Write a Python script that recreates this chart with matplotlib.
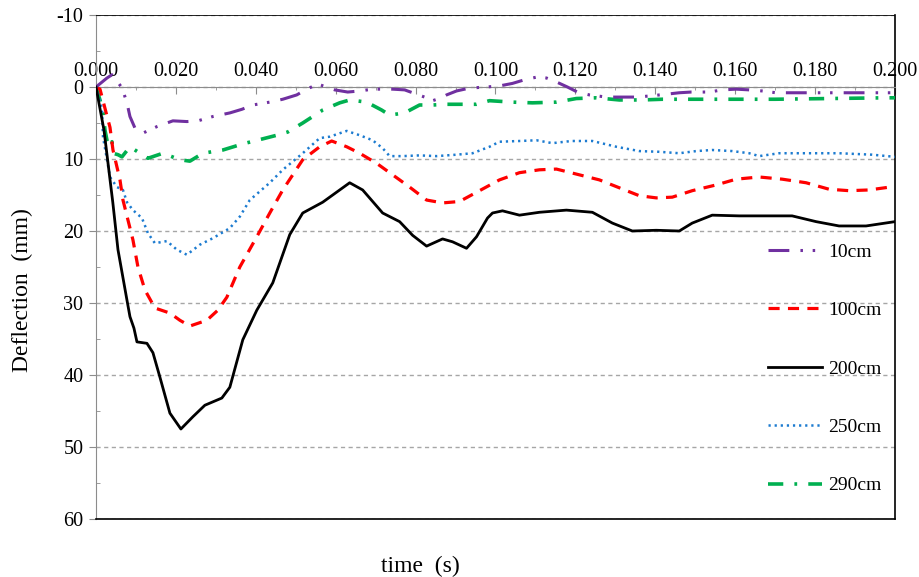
import matplotlib
matplotlib.use("Agg")
import matplotlib.pyplot as plt
from matplotlib.ticker import MultipleLocator, FormatStrFormatter

plt.rcParams['font.family'] = ['Liberation Serif', 'DejaVu Serif']
plt.rcParams['lines.scale_dashes'] = False
plt.rcParams['axes.unicode_minus'] = False

# deflection (mm) vs time (s)
t_10 = [0, 0.00275, 0.004, 0.0065, 0.00775, 0.0085, 0.00975, 0.01175, 0.01525, 0.01925,
        0.02275, 0.0255, 0.02925, 0.0335, 0.0365, 0.03925, 0.0435, 0.04675, 0.05025, 0.05275,
        0.0555, 0.05775, 0.05975, 0.063, 0.066, 0.06925, 0.07425, 0.07725, 0.08025, 0.08275,
        0.08425, 0.0865, 0.08775, 0.09025, 0.0935, 0.09775, 0.101, 0.10425, 0.10725, 0.1105,
        0.11275, 0.11525, 0.118, 0.1205, 0.1235, 0.12775, 0.13175, 0.13525, 0.1385, 0.14275,
        0.146, 0.149, 0.1535, 0.15675, 0.16025, 0.1635, 0.16675, 0.17025, 0.17425, 0.18025,
        0.1843, 0.2]
d_10 = [0, -1.25, -1.7, 0.1, 2.2, 4.1, 5.7, 6.4, 5.5, 4.7,
        4.8, 4.7, 4.1, 3.6, 3.1, 2.5, 2.1, 1.7, 1.1, 0.3,
        -0.4, 0, 0.4, 0.7, 0.55, 0.3, 0.3, 0.4, 1.0, 1.5,
        1.9, 1.5, 1.1, 0.55, 0.15, 0, -0.15, -0.5, -1.0, -1.4,
        -1.25, -0.7, 0, 0.7, 1.1, 1.4, 1.4, 1.4, 1.25, 1.0,
        0.8, 0.7, 0.7, 0.4, 0.3, 0.4, 0.55, 0.8, 0.8, 0.8,
        0.8, 0.8]

t_100 = [0, 0.001, 0.0025, 0.0035, 0.00425, 0.006, 0.00675, 0.00925, 0.0105, 0.01225,
         0.01475, 0.0185, 0.021, 0.0235, 0.02775, 0.0305, 0.03275, 0.036, 0.04025, 0.0435,
         0.04675, 0.05175, 0.056, 0.059, 0.06275, 0.066, 0.07025, 0.0735, 0.0785, 0.08275,
         0.08675, 0.091, 0.096, 0.101, 0.106, 0.111, 0.11525, 0.121, 0.126, 0.131,
         0.136, 0.14025, 0.14425, 0.14925, 0.15525, 0.16025, 0.166, 0.17175, 0.17775, 0.1835,
         0.1885, 0.1935, 0.2]
d_100 = [0, 0.3, 3.5, 5.6, 8.75, 12.9, 15.7, 21.25, 25.0, 28.2,
         30.7, 31.4, 32.4, 33.2, 32.4, 31.0, 29.2, 25.0, 20.8, 17.5,
         14.3, 10.1, 8.3, 7.5, 8.3, 9.2, 10.6, 11.9, 13.9, 15.7,
         16.1, 15.9, 14.4, 12.9, 11.9, 11.5, 11.4, 12.2, 12.9, 14.0,
         15.1, 15.4, 15.3, 14.4, 13.6, 12.8, 12.5, 12.8, 13.3, 14.2,
         14.4, 14.3, 13.8]

t_200 = [0, 0.002, 0.0042, 0.0055, 0.00775, 0.0085, 0.0095, 0.01025, 0.01275, 0.01425,
         0.016, 0.0185, 0.02125, 0.02425, 0.02725, 0.0315, 0.0335, 0.03675, 0.04025, 0.04425,
         0.0485, 0.05175, 0.05675, 0.06025, 0.0635, 0.06675, 0.07175, 0.076, 0.07925, 0.08275,
         0.08675, 0.08925, 0.09275, 0.09525, 0.098, 0.09925, 0.10175, 0.106, 0.111, 0.11775,
         0.12425, 0.12925, 0.13425, 0.14025, 0.146, 0.14925, 0.15425, 0.161, 0.17425, 0.18025,
         0.186, 0.19275, 0.2]
d_200 = [0, 6.0, 16.0, 22.6, 29.6, 31.9, 33.5, 35.4, 35.6, 36.9,
         40.3, 45.3, 47.5, 45.8, 44.2, 43.2, 41.7, 35.1, 31.0, 27.2,
         20.5, 17.5, 16.0, 14.6, 13.3, 14.3, 17.5, 18.7, 20.6, 22.1,
         21.1, 21.5, 22.4, 20.8, 18.2, 17.5, 17.2, 17.8, 17.4, 17.1,
         17.4, 18.9, 20.0, 19.9, 20.0, 18.9, 17.8, 17.9, 17.9, 18.7,
         19.3, 19.3, 18.7]

t_250 = [0, 0.0015, 0.00175, 0.0035, 0.00525, 0.00675, 0.00775, 0.00925, 0.0115, 0.013,
         0.01475, 0.01775, 0.02025, 0.02275, 0.026, 0.02925, 0.0335, 0.036, 0.0385, 0.0435,
         0.04675, 0.05175, 0.056, 0.0585, 0.06275, 0.066, 0.06925, 0.07175, 0.0735, 0.07675,
         0.081, 0.08525, 0.09025, 0.09425, 0.0985, 0.101, 0.106, 0.11025, 0.11425, 0.119,
         0.12425, 0.13025, 0.136, 0.141, 0.146, 0.15025, 0.15425, 0.15925, 0.1635, 0.166,
         0.171, 0.17775, 0.186, 0.19425, 0.2]
d_250 = [0, 3.0, 6.9, 12.5, 13.9, 14.3, 16.0, 17.1, 18.2, 20.3,
         21.7, 21.4, 22.6, 23.3, 21.9, 21.0, 19.6, 18.0, 15.7, 13.3,
         11.5, 9.2, 7.1, 6.9, 6.1, 6.7, 7.4, 8.5, 9.6, 9.6,
         9.5, 9.6, 9.4, 9.2, 8.3, 7.6, 7.5, 7.4, 7.8, 7.5,
         7.5, 8.3, 8.9, 9.0, 9.2, 8.9, 8.75, 8.9, 9.2, 9.6,
         9.2, 9.2, 9.2, 9.4, 9.7]

t_290 = [0, 0.001, 0.00175, 0.00225, 0.00275, 0.0035, 0.004, 0.00425, 0.0055, 0.0065,
         0.0085, 0.011, 0.013, 0.01675, 0.021, 0.0235, 0.02675, 0.03175, 0.03675, 0.04175,
         0.04525, 0.048, 0.05175, 0.05675, 0.061, 0.0635, 0.06775, 0.0715, 0.0735, 0.07725,
         0.081, 0.08425, 0.08775, 0.09175, 0.09525, 0.0985, 0.10425, 0.10925, 0.11525, 0.12025,
         0.12525, 0.131, 0.13675, 0.14175, 0.14775, 0.17, 0.19775, 0.2]
d_290 = [0, 1.8, 3.6, 6.0, 7.4, 8.3, 7.6, 9.2, 9.4, 9.7,
         8.3, 9.2, 9.9, 9.2, 10.1, 10.3, 9.2, 8.75, 7.9, 7.2,
         6.7, 6.25, 5.0, 3.2, 2.2, 1.8, 2.1, 3.2, 3.9, 3.6,
         2.5, 2.5, 2.4, 2.4, 2.4, 1.9, 2.1, 2.2, 2.1, 1.6,
         1.5, 1.8, 1.8, 1.7, 1.7, 1.7, 1.5, 1.5]

labels = ["10cm", "100cm", "200cm", "250cm", "290cm"]

W, H = 920, 577
fig = plt.figure(figsize=(W / 100, H / 100), dpi=100)
ax = fig.add_axes([96 / W, 1 - 519 / H, (895 - 96) / W, (519 - 15) / H])

grey = '#8C8C8C'

ax.plot(t_290, d_290, color='#00B050', lw=2.6, dashes=(11, 8, 2, 8), label=labels[4], zorder=3)
ax.plot(t_250, d_250, color='#1C7BD0', lw=1.8, dashes=(1.6, 2.8), label=labels[3], zorder=3)
ax.plot(t_200, d_200, color='black', lw=2.0, label=labels[2], zorder=4)
ax.plot(t_100, d_100, color='#FF0000', lw=2.3, dashes=(8, 6), label=labels[1], zorder=3)
ax.plot(t_10, d_10, color='#7030A0', lw=2.2, dashes=(15, 8, 1.8, 7, 1.8, 8), label=labels[0], zorder=3)

ax.set_xlim(0, 0.2)
ax.set_ylim(60, -10)

# x axis sits at deflection 0, labels above it
ax.spines['top'].set_position(('data', 0))
ax.spines['top'].set_color(grey)
ax.spines['left'].set_color(grey)
ax.spines['bottom'].set_color('black')
ax.spines['right'].set_color('black')
ax.spines['bottom'].set_linewidth(1.2)
ax.spines['right'].set_linewidth(1.2)
ax.axhline(-10, color='black', lw=1.2, zorder=5)

ax.xaxis.set_ticks_position('top')
ax.xaxis.set_label_position('top')
ax.xaxis.set_major_locator(MultipleLocator(0.02))
ax.xaxis.set_minor_locator(MultipleLocator(0.01))
ax.xaxis.set_major_formatter(FormatStrFormatter('%.3f'))
ax.tick_params(axis='x', which='major', direction='in', length=5, color=grey, labelsize=14.5, pad=4)
ax.tick_params(axis='x', which='minor', direction='in', length=2.5, color=grey)

ax.yaxis.set_major_locator(MultipleLocator(10))
ax.yaxis.set_minor_locator(MultipleLocator(5))
ax.tick_params(axis='y', which='major', direction='out', length=5, color=grey, labelsize=14.5, pad=4)
ax.tick_params(axis='y', which='minor', direction='in', length=3, color=grey)

ax.yaxis.grid(True, which='major', color='#A6A6A6', lw=1.0, dashes=(3, 2.5))
ax.set_axisbelow(True)

fig.text(22 / W, 1 - 290 / H, "Deflection  (mm)", rotation=90, fontsize=17, ha='center', va='center')
fig.text(420 / W, 1 - 566 / H, "time  (s)", fontsize=17, ha='center', va='center')

handles, labs = ax.get_legend_handles_labels()
order = [4, 3, 2, 1, 0]
ax.legend([handles[i] for i in order], [labs[i] for i in order],
          loc='upper left', bbox_to_anchor=(768 / W, 1 - 243 / H), bbox_transform=fig.transFigure,
          frameon=False, fontsize=14, handlelength=2.8, handletextpad=0.3,
          labelspacing=2.1, borderpad=0, borderaxespad=0)

fig.savefig("out.png", dpi=100)
